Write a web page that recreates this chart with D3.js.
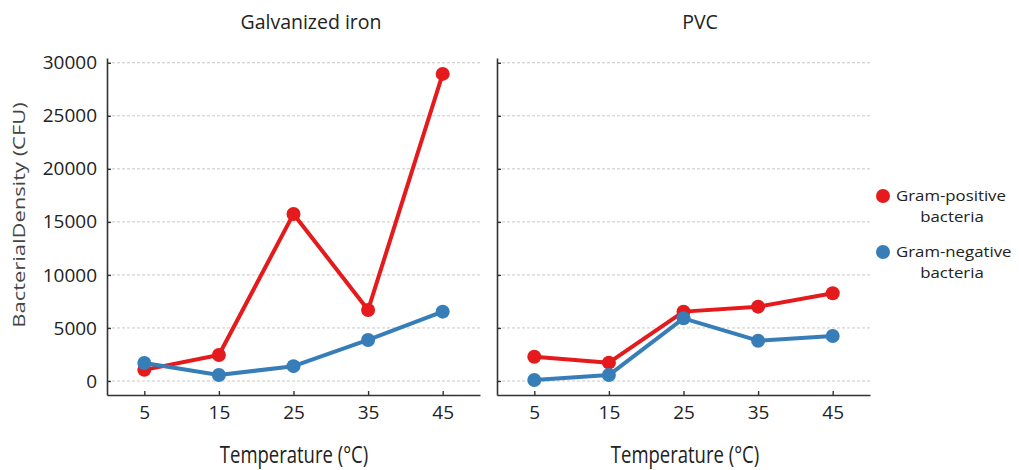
<!DOCTYPE html>
<html><head><meta charset="utf-8">
<script src="https://cdn.jsdelivr.net/npm/d3@7"></script>
<style>body{margin:0;background:#fff}svg{display:block}text{font-family:"Open Sans","DejaVu Sans",sans-serif}</style>
</head><body><svg id="c" width="1019" height="470"></svg>
<script>
const temps = [5, 15, 25, 35, 45];
const panels = ["Galvanized iron", "PVC"];
const seriesNames = ["Gram-positive bacteria", "Gram-negative bacteria"];
const ironPositive = [1050, 2450, 15750, 6700, 28950];
const ironNegative = [1700, 560, 1400, 3870, 6540];
const pvcPositive = [2290, 1730, 6540, 7010, 8270];
const pvcNegative = [90, 560, 5910, 3800, 4240];
const yTicks = [0, 5000, 10000, 15000, 20000, 25000, 30000];
const xTicks = [5, 15, 25, 35, 45];
const colors = ["#e41a1c", "#377eb8"];

const svg = d3.select("#c");
const y = d3.scaleLinear().domain([-1320, 30450]).range([395, 58]);
const panelData = [[ironPositive, ironNegative], [pvcPositive, pvcNegative]];
const panelRanges = [[107, 480], [497, 870]];
const titleX = [311, 700];
const xlabX = [294, 685];
const xlabTexts = ["Temperature (°C)", "Temperature  (°C)"];

panels.forEach((name, pi) => {
  const x = d3.scaleLinear().domain([0, 50]).range(panelRanges[pi]);
  const g = svg.append("g");
  g.selectAll(".grid").data(yTicks).enter().append("line")
    .attr("x1", x(0)).attr("x2", x(50))
    .attr("y1", d => y(d)).attr("y2", d => y(d))
    .attr("stroke", "#c8c8c8").attr("stroke-width", 1).attr("stroke-dasharray", "3,2");
  const ya = d3.axisLeft(y).tickValues(yTicks).tickSizeInner(-4).tickSizeOuter(0).tickPadding(10)
    .tickFormat(pi === 0 ? d3.format("d") : () => "");
  const yg = g.append("g").attr("transform", `translate(${x(0)},0)`).call(ya);
  const xa = d3.axisBottom(x).tickValues(xTicks).tickSizeInner(-4).tickSizeOuter(0).tickPadding(11);
  const xg = g.append("g").attr("transform", `translate(0,${y.range()[0]})`).call(xa);
  [yg, xg].forEach(a => {
    a.select(".domain").attr("stroke", "#333").attr("stroke-width", 1.6);
    a.selectAll(".tick line").attr("stroke", "#333").attr("stroke-width", 1.4);
    a.selectAll(".tick text").attr("fill", "#222").style("font-size", "19px").style("font-family", "'Open Sans',sans-serif");
  });
  panelData[pi].forEach((vals, si) => {
    const pts = temps.map((t, i) => [x(t), y(vals[i])]);
    g.append("path").attr("d", d3.line()(pts)).attr("fill", "none")
      .attr("stroke", colors[si]).attr("stroke-width", 4).attr("stroke-linejoin", "round");
    g.selectAll(".pt" + si).data(pts).enter().append("circle")
      .attr("cx", d => d[0]).attr("cy", d => d[1]).attr("r", 7).attr("fill", colors[si]);
  });
  svg.append("text").attr("x", titleX[pi]).attr("y", 29).attr("text-anchor", "middle")
    .attr("fill", "#222").style("font-size", "19.5px").text(name);
  svg.append("text").attr("transform", `translate(${xlabX[pi]},463) scale(1,1.28)`).attr("text-anchor", "middle")
    .attr("fill", "#222").style("font-size", "18.5px").text(xlabTexts[pi]);
});

svg.append("text").attr("transform", "translate(25,215) rotate(-90) scale(1.29,1)").attr("text-anchor", "middle")
  .attr("fill", "#444").style("font-size", "17px").text("BacterialDensity (CFU)");

const legY = [196, 252];
seriesNames.forEach((s, i) => {
  const parts = s.split(" ");
  svg.append("circle").attr("cx", 883).attr("cy", legY[i]).attr("r", 7).attr("fill", colors[i]);
  svg.append("text").attr("transform", `translate(896,${legY[i] + 5}) scale(1.12,1)`).attr("fill", "#222")
    .style("font-size", "15px").text(parts[0]);
  svg.append("text").attr("transform", `translate(952,${legY[i] + 26}) scale(1.12,1)`).attr("text-anchor", "middle").attr("fill", "#222")
    .style("font-size", "15px").text(parts[1]);
});
</script></body></html>
